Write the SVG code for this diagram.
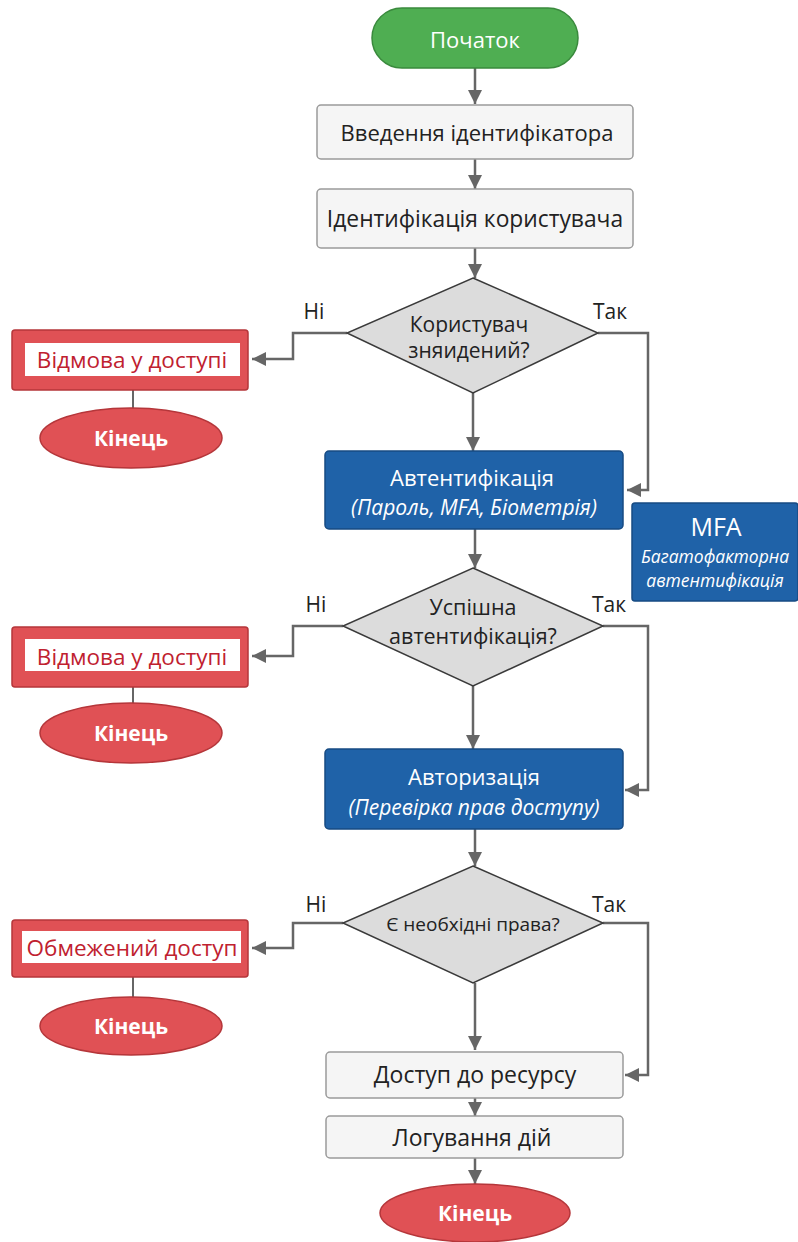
<svg xmlns="http://www.w3.org/2000/svg" width="798" height="1242" viewBox="0 0 798 1242">
<defs>
<marker id="ah" viewBox="0 0 10 10" refX="10" refY="5" markerWidth="14" markerHeight="15" markerUnits="userSpaceOnUse" orient="auto"><path d="M0,0 L10,5 L0,10 z" fill="#666"/></marker>
<style>
text{font-family:"Open Sans","Noto Sans","DejaVu Sans",sans-serif;text-anchor:middle;dominant-baseline:central}
.start{fill:#4fae52;stroke:#3a8a3d;stroke-width:1.5}
.end{fill:#e05155;stroke:#b5363a;stroke-width:1.5}
.proc{fill:#f5f5f5;stroke:#9a9a9a;stroke-width:1.5}
.blue{fill:#1f62a8;stroke:#174b83;stroke-width:1.5}
.red{fill:#e05155;stroke:#b5363a;stroke-width:1.5}
.inner{fill:#ffffff}
.dec{fill:#dcdcdc;stroke:#3a3a3a;stroke-width:1.5}
.conn{fill:none;stroke:#666;stroke-width:2.5}
.line{fill:none;stroke:#666;stroke-width:2}
.wt{fill:#ffffff;font-size:22px}
.wb{fill:#ffffff;font-size:21px;font-weight:bold}
.dt{fill:#222;font-size:22px}
.rt{fill:#c0212f;font-size:22.5px}
.it{font-style:italic}
.lbl{fill:#222;font-size:21px}
</style>
</defs>
<rect width="798" height="1242" fill="#ffffff"/>

<g id="connectors">
<line class="conn" x1="475" y1="68" x2="475" y2="104" marker-end="url(#ah)"/>
<line class="conn" x1="475" y1="159" x2="475" y2="189" marker-end="url(#ah)"/>
<line class="conn" x1="475" y1="248" x2="475" y2="278" marker-end="url(#ah)"/>
<polyline class="conn" points="347,333 293,333 293,359 252,359" marker-end="url(#ah)"/>
<line class="line" x1="133" y1="390" x2="133" y2="409"/>
<polyline class="conn" points="598,333 648,333 648,490 627,490" marker-end="url(#ah)"/>
<line class="conn" x1="473" y1="393" x2="473" y2="451" marker-end="url(#ah)"/>
<line class="conn" x1="475" y1="529" x2="475" y2="568" marker-end="url(#ah)"/>
<polyline class="conn" points="343,626 293,626 293,656 252,656" marker-end="url(#ah)"/>
<line class="line" x1="133" y1="687" x2="133" y2="705"/>
<polyline class="conn" points="603,626 648,626 648,790 625,790" marker-end="url(#ah)"/>
<line class="conn" x1="473" y1="686" x2="473" y2="749" marker-end="url(#ah)"/>
<line class="conn" x1="475" y1="829" x2="475" y2="866" marker-end="url(#ah)"/>
<polyline class="conn" points="343,923 293,923 293,948 252,948" marker-end="url(#ah)"/>
<line class="line" x1="133" y1="977" x2="133" y2="998"/>
<polyline class="conn" points="603,923 648,923 648,1075 625,1075" marker-end="url(#ah)"/>
<line class="conn" x1="475" y1="983" x2="475" y2="1050" marker-end="url(#ah)"/>
<line class="conn" x1="475" y1="1098" x2="475" y2="1116" marker-end="url(#ah)"/>
<line class="conn" x1="475" y1="1158" x2="475" y2="1184" marker-end="url(#ah)"/>
<text class="lbl" x="314" y="311">Ні</text>
<text class="lbl" x="610" y="311">Так</text>
<text class="lbl" x="316" y="604">Ні</text>
<text class="lbl" x="609" y="604">Так</text>
<text class="lbl" x="316" y="904">Ні</text>
<text class="lbl" x="609" y="904">Так</text>
</g>

<g id="start">
<rect class="start" x="372" y="8" width="206" height="60" rx="30"/>
<text class="wt" x="475" y="39">Початок</text>
</g>

<g id="enter-id">
<rect class="proc" x="317" y="105" width="316" height="54" rx="4"/>
<text class="dt" x="477" y="132">Введення ідентифікатора</text>
</g>

<g id="identify">
<rect class="proc" x="317" y="189" width="316" height="59" rx="4"/>
<text class="dt" x="475" y="218" style="font-size:22.8px">Ідентифікація користувача</text>
</g>

<g id="dec-found">
<polygon class="dec" points="473,278 598,333 473,393 347,333"/>
<text class="dt" x="469" y="324" style="font-size:21px">Користувач</text>
<text class="dt" x="469" y="350" style="font-size:21px">зняидений?</text>
</g>

<g id="deny1">
<rect class="red" x="12" y="330" width="236" height="60" rx="3"/>
<rect class="inner" x="25" y="343" width="215" height="33"/>
<text class="rt" x="132" y="359">Відмова у доступі</text>
</g>
<g id="end1">
<ellipse class="end" cx="131" cy="438" rx="91" ry="30"/>
<text class="wb" x="131" y="438">Кінець</text>
</g>

<g id="auth">
<rect class="blue" x="325" y="451" width="298" height="78" rx="4"/>
<text class="wt" x="472" y="477">Автентифікація</text>
<text class="wt it" x="474" y="507" style="font-size:21px">(Пароль, MFA, Біометрія)</text>
</g>

<g id="mfa">
<rect class="blue" x="632" y="503" width="166" height="98" rx="3"/>
<text class="wt" x="716" y="526" style="font-size:25px">MFA</text>
<text class="wt it" x="715" y="556" style="font-size:17.5px">Багатофакторна</text>
<text class="wt it" x="715" y="580" style="font-size:17.5px">автентифікація</text>
</g>

<g id="dec-auth">
<polygon class="dec" points="473,568 603,626 473,686 343,626"/>
<text class="dt" x="473" y="606" style="font-size:21.5px">Успішна</text>
<text class="dt" x="473" y="635" style="font-size:21.5px">автентифікація?</text>
</g>

<g id="deny2">
<rect class="red" x="12" y="627" width="236" height="60" rx="3"/>
<rect class="inner" x="25" y="639" width="215" height="32"/>
<text class="rt" x="132" y="656">Відмова у доступі</text>
</g>
<g id="end2">
<ellipse class="end" cx="131" cy="733" rx="91" ry="30"/>
<text class="wb" x="131" y="733">Кінець</text>
</g>

<g id="authz">
<rect class="blue" x="325" y="749" width="298" height="80" rx="4"/>
<text class="wt" x="474" y="776">Авторизація</text>
<text class="wt it" x="474" y="807" style="font-size:21px">(Перевірка прав доступу)</text>
</g>

<g id="dec-rights">
<polygon class="dec" points="473,866 603,923 473,983 343,923"/>
<text class="dt" x="473" y="924" style="font-size:19px">Є необхідні права?</text>
</g>

<g id="limited">
<rect class="red" x="12" y="920" width="236" height="57" rx="3"/>
<rect class="inner" x="22" y="931" width="219" height="32"/>
<text class="rt" x="132" y="947">Обмежений доступ</text>
</g>
<g id="end3">
<ellipse class="end" cx="131" cy="1026" rx="91" ry="29"/>
<text class="wb" x="131" y="1026">Кінець</text>
</g>

<g id="access">
<rect class="proc" x="326" y="1052" width="297" height="46" rx="4"/>
<text class="dt" x="475" y="1074" style="font-size:23px">Доступ до ресурсу</text>
</g>

<g id="log">
<rect class="proc" x="326" y="1116" width="297" height="42" rx="4"/>
<text class="dt" x="472" y="1137" style="font-size:23px">Логування дій</text>
</g>

<g id="end-final">
<ellipse class="end" cx="475" cy="1213" rx="95" ry="29"/>
<text class="wb" x="475" y="1213">Кінець</text>
</g>
</svg>
